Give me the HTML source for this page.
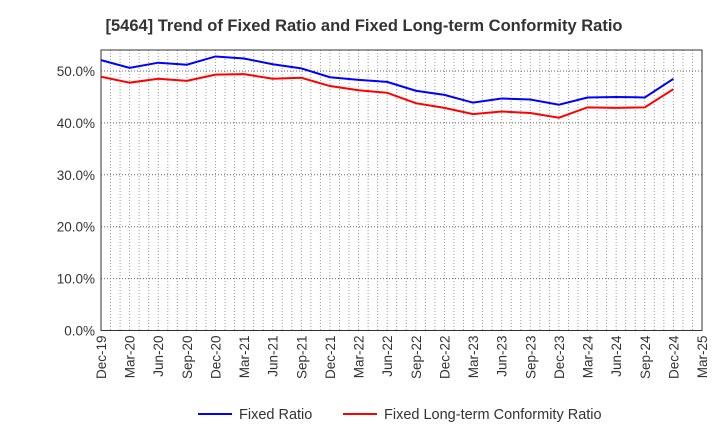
<!DOCTYPE html>
<html><head><meta charset="utf-8"><style>
body{margin:0;background:#fff;font-family:"Liberation Sans",sans-serif}
</style></head><body>
<svg id="c" width="720" height="440" style="display:block">
<text x="364" y="31" text-anchor="middle" font-size="16.5" font-weight="bold" fill="#333">[5464]  Trend of Fixed Ratio and Fixed Long-term Conformity Ratio</text>
<g id="grid"></g><g id="axes"></g><g id="series"></g>
<g>
<line x1="198" y1="414" x2="232" y2="414" stroke="#0000ff" stroke-width="2"/>
<text x="239" y="419" font-size="14.5" fill="#333">Fixed Ratio</text>
<line x1="343" y1="414" x2="377" y2="414" stroke="#ff0000" stroke-width="2"/>
<text x="384" y="419" font-size="14.5" fill="#333">Fixed Long-term Conformity Ratio</text>
</g>
</svg>
<script>
const categories=["Dec-19","Mar-20","Jun-20","Sep-20","Dec-20","Mar-21","Jun-21","Sep-21","Dec-21","Mar-22","Jun-22","Sep-22","Dec-22","Mar-23","Jun-23","Sep-23","Dec-23","Mar-24","Jun-24","Sep-24","Dec-24","Mar-25"];
const fixedRatio=[52.1,50.6,51.6,51.2,52.8,52.4,51.3,50.5,48.8,48.3,47.9,46.2,45.4,43.9,44.7,44.5,43.5,44.9,45.0,44.9,48.5];
const conformityRatio=[48.9,47.75,48.5,48.1,49.3,49.4,48.5,48.7,47.1,46.3,45.8,43.8,42.9,41.7,42.2,41.9,41.0,43.0,42.9,43.0,46.5];
const yTicks=[0,10,20,30,40,50];
const L=101,R=702,T=50,B=330.5;
const x=i=>L+i*(R-L)/(categories.length-1);
const y=v=>B-v*(B-71)/50;
const NS="http://www.w3.org/2000/svg";
function mk(p,t,a){const e=document.createElementNS(NS,t);for(const k in a)e.setAttribute(k,a[k]);p.appendChild(e);return e;}
const grid=document.getElementById('grid'),axes=document.getElementById('axes'),ser=document.getElementById('series');
const nm=(categories.length-1)*3;
for(let m=1;m<nm;m++){const xx=L+m*(R-L)/nm;const e=mk(grid,'line',{x1:xx,x2:xx,y1:T,y2:B,stroke:'#999','stroke-dasharray':'1,2','stroke-width':1});

}
yTicks.forEach(v=>{if(v>0){const e=mk(grid,'line',{x1:L,x2:R,y1:y(v),y2:y(v),stroke:'#666','stroke-dasharray':'1,2','stroke-width':1});

}
const t=mk(axes,'text',{x:L-6,y:y(v)+5,'text-anchor':'end','font-size':13.5,fill:'#333'});t.textContent=v.toFixed(1)+'%';

});
const fr=mk(axes,'rect',{x:L,y:T,width:R-L,height:B-T,fill:'none',stroke:'#333','stroke-width':1});


categories.forEach((c,i)=>{const t=mk(axes,'text',{transform:`translate(${x(i)+5},${B+5}) rotate(-90)`,'text-anchor':'end','font-size':13.5,fill:'#333'});t.textContent=c;

});
function line(d,col,name){const p=mk(ser,'polyline',{points:d.map((v,i)=>x(i)+','+y(v)).join(' '),fill:'none',stroke:col,'stroke-width':2});

}
line(fixedRatio,'#0000ff','fixed-ratio-line');
line(conformityRatio,'#ff0000','conformity-ratio-line');
</script>
</body></html>
